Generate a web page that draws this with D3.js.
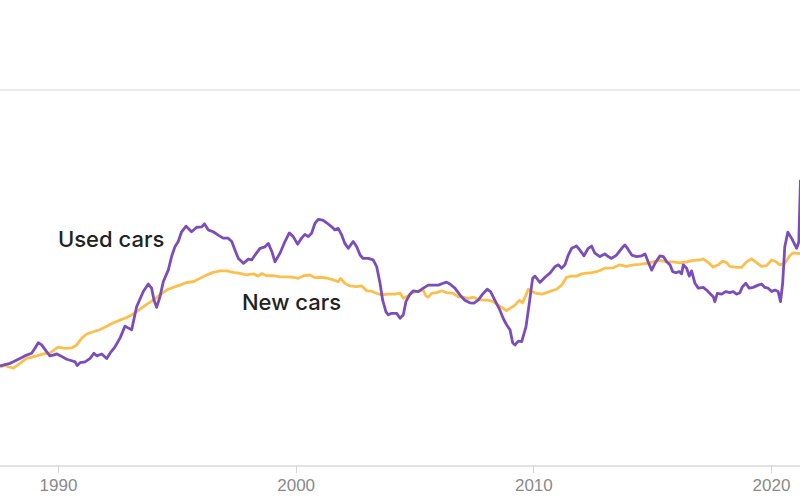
<!DOCTYPE html>
<html>
<head>
<meta charset="utf-8">
<script src="https://cdn.jsdelivr.net/npm/d3@7"></script>
<style>
  html, body { margin: 0; padding: 0; background: #fff; }
  svg { display: block; }
</style>
</head>
<body>
<svg id="chart" width="800" height="500"></svg>
<script>
// ---- Data (decimal year, index value) ----
const usedYears = [1987.56,1987.98,1988.12,1988.40,1988.68,1988.89,1989.03,1989.17,1989.31,1989.52,1989.66,1989.80,1989.95,1990.16,1990.37,1990.58,1990.72,1990.81,1990.93,1991.14,1991.35,1991.51,1991.63,1991.84,1992.05,1992.19,1992.40,1992.61,1992.82,1993.10,1993.31,1993.59,1993.80,1993.94,1994.04,1994.15,1994.29,1994.43,1994.64,1994.78,1994.92,1995.06,1995.20,1995.39,1995.62,1995.84,1996.05,1996.16,1996.32,1996.53,1996.74,1996.95,1997.16,1997.31,1997.45,1997.59,1997.80,1998.01,1998.15,1998.29,1998.50,1998.71,1998.85,1999.00,1999.13,1999.34,1999.55,1999.73,1999.90,2000.08,2000.25,2000.39,2000.53,2000.67,2000.81,2000.95,2001.14,2001.30,2001.52,2001.65,2001.79,2001.94,2002.07,2002.21,2002.42,2002.57,2002.71,2002.84,2003.05,2003.26,2003.41,2003.55,2003.66,2003.80,2003.90,2004.04,2004.25,2004.39,2004.53,2004.64,2004.81,2004.95,2005.16,2005.37,2005.58,2005.79,2006.00,2006.21,2006.35,2006.49,2006.70,2006.91,2007.12,2007.33,2007.50,2007.68,2007.89,2008.06,2008.20,2008.38,2008.59,2008.73,2008.88,2009.02,2009.13,2009.23,2009.37,2009.51,2009.69,2009.83,2009.97,2010.07,2010.28,2010.49,2010.70,2010.91,2011.05,2011.19,2011.33,2011.47,2011.61,2011.82,2011.96,2012.13,2012.31,2012.45,2012.59,2012.80,2013.01,2013.15,2013.29,2013.50,2013.72,2013.85,2013.99,2014.14,2014.35,2014.56,2014.70,2014.83,2014.98,2015.12,2015.33,2015.47,2015.61,2015.75,2015.86,2016.00,2016.14,2016.24,2016.31,2016.45,2016.56,2016.66,2016.80,2016.94,2017.15,2017.29,2017.43,2017.57,2017.64,2017.74,2017.92,2018.10,2018.27,2018.41,2018.55,2018.69,2018.80,2018.94,2019.08,2019.25,2019.46,2019.60,2019.74,2019.88,2020.03,2020.16,2020.30,2020.40,2020.49,2020.58,2020.71,2020.88,2021.08,2021.17,2021.24];
const usedValues = [26.6,27.3,27.7,28.6,29.5,30.0,31.3,32.8,32.2,30.4,29.3,29.5,29.8,29.1,28.4,28.0,27.7,26.7,27.5,27.7,28.6,30.0,29.3,29.8,28.6,30.0,31.7,34.0,37.2,36.2,42.4,46.4,48.4,47.3,44.1,42.2,45.0,49.0,52.1,55.7,58.3,59.7,62.3,63.8,62.3,63.5,63.6,64.4,62.8,62.3,61.4,60.6,60.6,59.7,57.4,55.2,53.9,55.0,54.8,56.1,57.9,58.3,59.2,57.0,54.3,56.6,59.7,62.0,61.0,59.0,60.6,61.6,61.0,61.9,64.5,65.6,65.4,64.7,63.6,62.8,63.2,61.4,59.2,57.9,59.7,58.3,56.1,55.2,55.2,54.8,53.0,48.6,44.1,41.0,40.2,40.6,40.6,39.3,40.2,43.7,45.7,46.6,46.4,47.3,48.1,48.1,48.1,48.6,48.9,48.4,47.3,45.5,44.1,43.4,43.3,44.1,45.9,47.0,46.4,44.1,41.5,39.3,37.5,36.2,32.8,32.2,33.2,33.1,37.0,43.3,49.9,50.5,48.8,50.2,51.3,53.0,53.5,52.6,53.5,56.1,57.9,58.5,57.4,55.9,57.9,58.5,56.6,55.7,56.4,55.7,55.2,56.1,57.9,58.8,57.6,56.1,55.7,55.9,56.4,54.3,52.1,53.9,55.9,55.7,54.3,53.5,51.7,51.4,51.7,51.1,53.5,52.6,50.5,51.9,48.6,47.3,47.5,46.8,45.9,45.0,43.7,45.9,45.7,46.4,46.1,46.4,45.7,46.1,47.7,48.6,47.3,47.5,48.1,48.4,47.5,47.3,46.4,46.8,46.4,43.7,48.6,58.3,62.2,60.4,57.9,59.6,76.1];

const newYears = [1987.56,1987.77,1987.91,1988.12,1988.40,1988.68,1988.86,1989.10,1989.38,1989.66,1989.87,1990.01,1990.29,1990.58,1990.79,1991.00,1991.21,1991.49,1991.77,1992.05,1992.33,1992.61,1992.89,1993.17,1993.45,1993.73,1994.01,1994.29,1994.57,1994.85,1995.13,1995.41,1995.69,1995.97,1996.26,1996.53,1996.82,1997.10,1997.38,1997.66,1997.94,1998.22,1998.43,1998.57,1998.78,1999.06,1999.34,1999.62,1999.90,2000.11,2000.32,2000.60,2000.81,2001.02,2001.30,2001.58,2001.79,2001.89,2002.07,2002.28,2002.57,2002.78,2002.99,2003.20,2003.41,2003.62,2003.90,2004.18,2004.39,2004.53,2004.72,2004.89,2005.09,2005.37,2005.48,2005.58,2005.72,2005.93,2006.14,2006.35,2006.63,2006.84,2007.05,2007.26,2007.47,2007.68,2007.89,2008.10,2008.31,2008.52,2008.73,2008.88,2009.02,2009.23,2009.41,2009.55,2009.65,2009.79,2009.93,2010.14,2010.35,2010.56,2010.77,2010.98,2011.19,2011.40,2011.61,2011.82,2012.03,2012.24,2012.45,2012.66,2012.80,2013.01,2013.36,2013.64,2013.92,2014.20,2014.48,2014.77,2015.04,2015.33,2015.61,2015.89,2016.17,2016.45,2016.73,2017.01,2017.15,2017.36,2017.57,2017.78,2017.96,2018.13,2018.27,2018.55,2018.76,2018.97,2019.18,2019.39,2019.60,2019.81,2020.03,2020.21,2020.37,2020.58,2020.79,2020.93,2021.21,2021.34];
const newValues = [26.3,26.9,26.4,26.0,27.3,28.6,28.9,29.3,29.8,30.0,31.0,31.6,31.3,31.4,32.2,34.0,35.1,35.7,36.3,37.2,38.1,38.8,39.5,40.4,41.7,43.0,44.1,45.5,46.8,47.5,48.1,48.8,49.0,49.9,50.8,51.5,51.9,51.9,51.5,51.2,50.8,51.1,50.5,51.2,50.6,50.6,50.3,50.3,50.2,49.9,50.6,50.8,50.1,50.2,50.0,49.5,49.0,49.9,48.6,47.9,47.7,47.9,46.6,46.5,45.9,45.5,45.7,45.7,46.0,44.6,45.2,46.0,46.4,46.8,45.2,44.9,45.9,46.1,46.6,46.1,45.9,45.0,44.9,44.6,44.9,44.3,44.1,44.1,43.7,42.8,41.9,41.3,41.9,42.8,44.1,43.4,44.9,47.0,46.4,45.9,45.7,46.1,46.6,47.0,48.1,50.2,50.5,50.5,51.1,51.3,51.4,51.7,52.0,52.6,52.7,53.5,53.1,53.5,53.6,53.9,54.3,54.7,54.3,54.3,54.0,54.3,54.7,54.8,55.1,54.1,52.9,53.5,54.5,54.1,53.1,52.8,52.8,54.3,55.1,54.1,53.1,53.3,54.8,54.3,53.5,53.9,55.9,56.7,56.5,56.9];

const xTickValues = [1990, 2000, 2010, 2020];
const gridValues = [0, 100];
const seriesNames = ["Used cars", "New cars"];
const seriesColors = ["#7a4db8", "#fbbf4f"];
// label anchors (year, value)
const labelYears = [1990.0, 1997.74];
const labelValues = [58.2, 41.5];

// ---- Layout ----
const W = 800, H = 500;
const svg = d3.select("#chart");

const x = d3.scaleLinear().domain([1987.56, 2021.22]).range([0, W]);
const y = d3.scaleLinear().domain([0, 100]).range([466, 90]);

// gridlines
svg.append("g").selectAll("line").data(gridValues).join("line")
  .attr("x1", 0).attr("x2", W)
  .attr("y1", d => y(d)).attr("y2", d => y(d))
  .attr("stroke", d => d === 0 ? "#e2e2e2" : "#ececec")
  .attr("stroke-width", 1.2)
  .attr("shape-rendering", "crispEdges");

// x axis
const xAxis = d3.axisBottom(x).tickValues(xTickValues).tickFormat(d3.format("d"))
  .tickSize(7).tickPadding(6);
const gx = svg.append("g").attr("transform", `translate(0,${y(0)})`).call(xAxis);
gx.select(".domain").remove();
gx.selectAll(".tick line").attr("stroke", "#d6d6d6").attr("shape-rendering", "crispEdges");
gx.selectAll(".tick text").attr("fill", "#8a8a8a")
  .style("font-family", "'Liberation Sans', Arial, sans-serif").style("font-size", "17px");

// lines
const line = d3.line().x(d => x(d[0])).y(d => y(d[1])).curve(d3.curveLinear);
const newData = d3.zip(newYears, newValues);
const usedData = d3.zip(usedYears, usedValues);

svg.append("path").datum(newData).attr("d", line)
  .attr("fill", "none").attr("stroke", seriesColors[1])
  .attr("stroke-width", 2.8).attr("stroke-linejoin", "round").attr("stroke-linecap", "butt");
svg.append("path").datum(usedData).attr("d", line)
  .attr("fill", "none").attr("stroke", seriesColors[0])
  .attr("stroke-width", 2.8).attr("stroke-linejoin", "round").attr("stroke-linecap", "butt");

// labels
svg.append("g").selectAll("text").data(seriesNames).join("text")
  .attr("x", (d, i) => x(labelYears[i]))
  .attr("y", (d, i) => y(labelValues[i]))
  .attr("fill", "#222")
  .style("font-family", "Inter, 'DejaVu Sans', sans-serif")
  .style("font-weight", 500)
  .style("font-size", "22px")
  .text(d => d);
</script>
</body>
</html>
